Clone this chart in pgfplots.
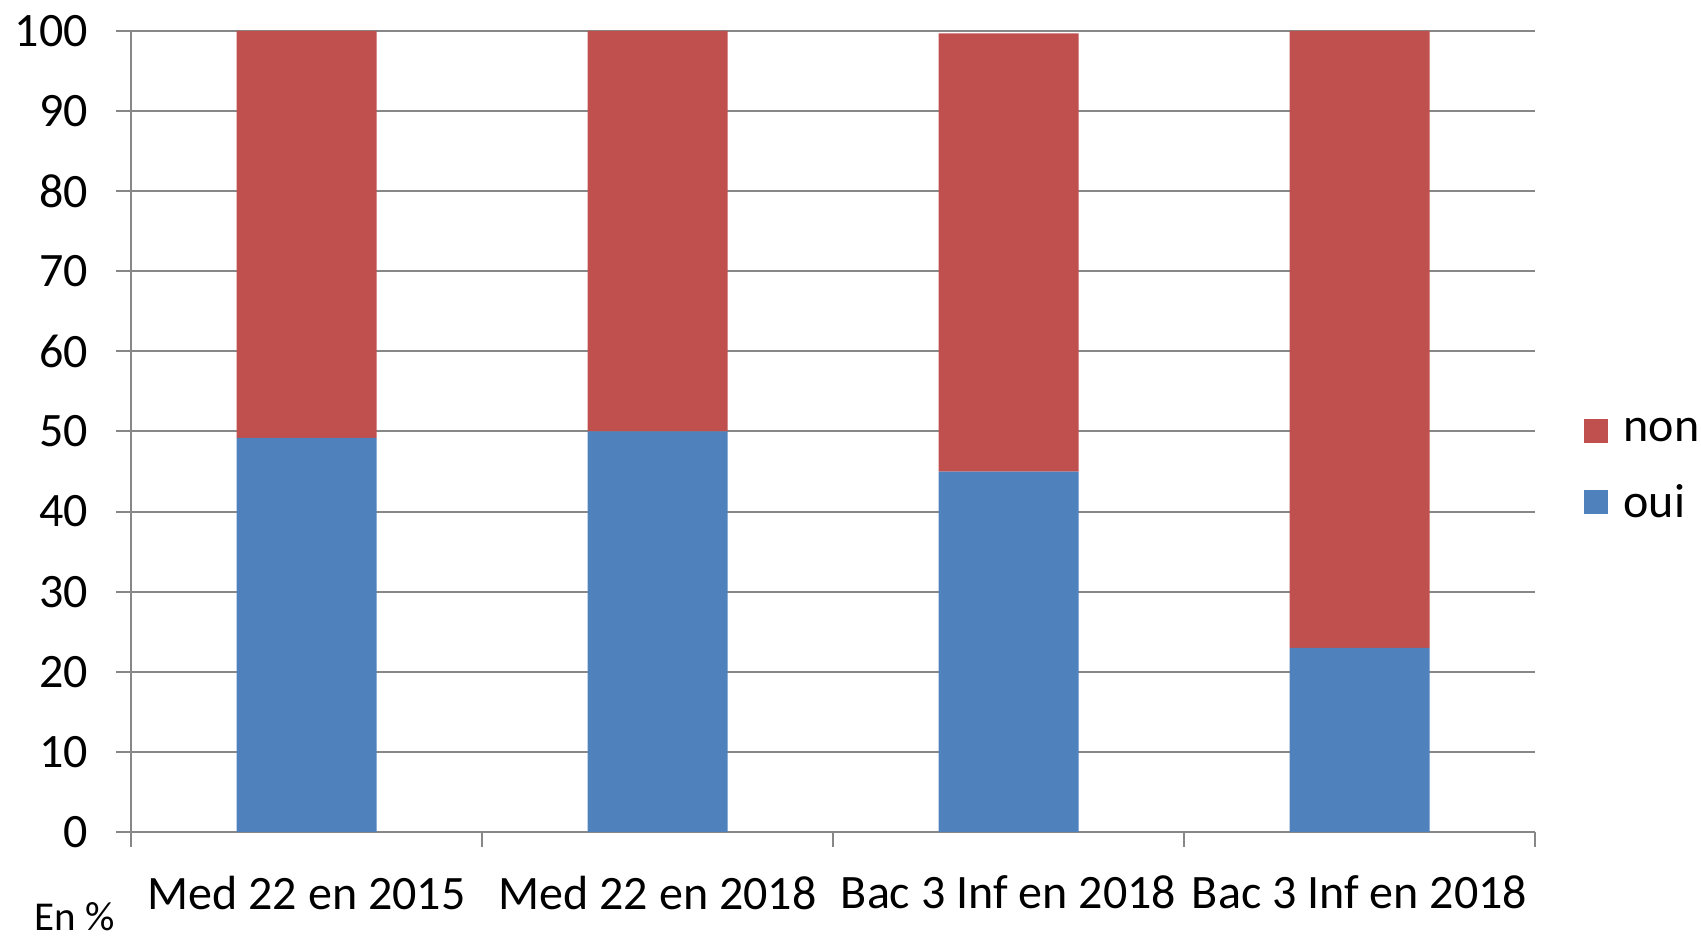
\documentclass[border=0pt]{standalone}
\usepackage{pgfplots}
\pgfplotsset{compat=1.18}
\usepackage{fontspec}
\setmainfont{Carlito}
\definecolor{cred}{HTML}{C0504D}
\definecolor{cblue}{HTML}{4F81BD}
\definecolor{cgrid}{HTML}{878787}
\begin{document}
\begin{tikzpicture}
\begin{axis}[
  scale only axis,
  width=702pt, height=400.5pt,
  xmin=-0.5, xmax=3.5, ymin=0, ymax=100,
  ybar stacked, bar width=70pt,
  xtick={0,1,2,3},
  xticklabels={Med 22 en 2015, Med 22 en 2018, Bac 3 Inf en 2018, Bac 3 Inf en 2018},
  minor xtick={-0.5,0.5,1.5,2.5,3.5},
  ytick={0,10,...,100},
  ymajorgrids,
  major grid style={cgrid, line width=1pt},
  axis x line*=bottom, axis y line*=left,
  axis line style={cgrid, line width=1pt},
  tick align=outside,
  x tick style={draw=none},
  minor x tick style={draw=cgrid, line width=1pt},
  minor tick length=7.5pt,
  y tick style={draw=cgrid, line width=1pt},
  major tick length=7.5pt,
  tick label style={font=\fontsize{24}{28}\selectfont, text=black},
  xticklabel style={yshift=-11pt},
  yticklabel style={xshift=-10.5pt},
  /pgf/number format/assume math mode=true,
  legend style={draw=none, at={(1.03,0.453)}, anchor=west, font=\fontsize{24}{28}\selectfont, row sep=16pt,
    /tikz/every odd column/.append style={column sep=6pt}},
  legend cell align=left,
  reverse legend,
  legend image code/.code={\fill[#1] (0pt,-6pt) rectangle (12pt,6pt);},
  clip=false,
]
\addplot[fill=cblue, draw=none] coordinates {(0,49.2) (1,50) (2,45) (3,23)};
\addlegendentry{oui}
\addplot[fill=cred, draw=none] coordinates {(0,50.8) (1,50) (2,54.7) (3,77)};
\addlegendentry{non}
\coordinate (bl) at (rel axis cs:0,0);
\coordinate (tr) at (rel axis cs:1,1);
\node[font=\fontsize{20.5}{23}\selectfont, anchor=center] at (rel axis cs:-0.04,-0.106) {En \%};
\end{axis}
\pgfresetboundingbox
\path[use as bounding box] ([xshift=-65.5pt,yshift=-53.5pt]bl) rectangle ([xshift=83pt,yshift=15.5pt]tr);
\end{tikzpicture}
\end{document}
